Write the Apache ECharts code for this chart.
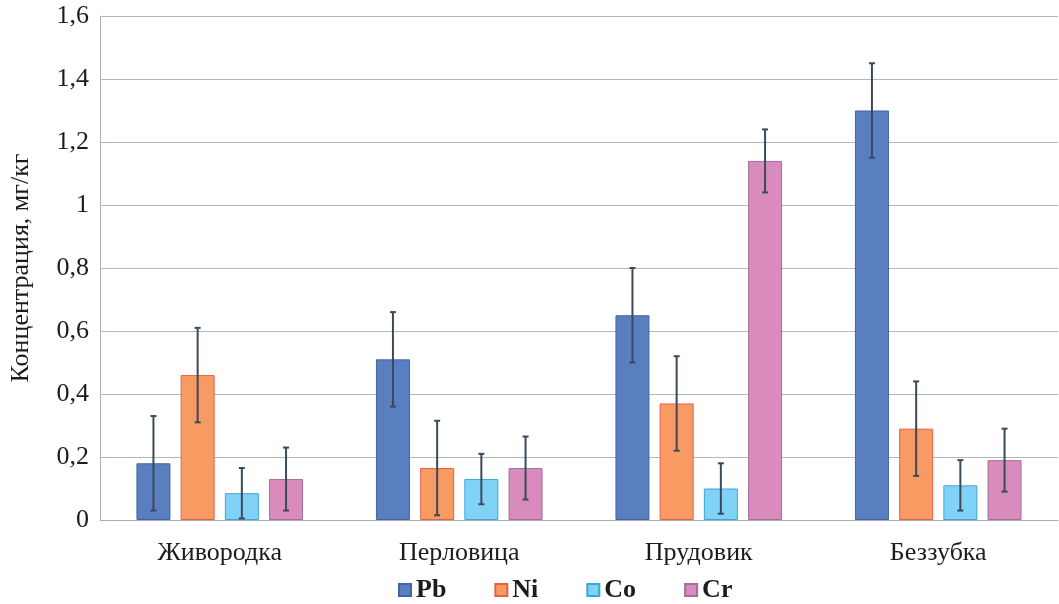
<!DOCTYPE html>
<html>
<head>
<meta charset="utf-8">
<script src="https://cdn.jsdelivr.net/npm/echarts@6/dist/echarts.min.js"></script>
<style>
  html, body { margin: 0; padding: 0; background: #ffffff; }
  #chart { width: 1059px; height: 604px; }
</style>
</head>
<body>
<div id="chart"></div>
<script>
// Mollusc groups along the category axis
const categories = ['Живородка', 'Перловица', 'Прудовик', 'Беззубка'];

// Mean concentration of each metal, mg/kg
const pbValues = [0.18, 0.51, 0.65, 1.30];
const niValues = [0.46, 0.165, 0.37, 0.29];
const coValues = [0.085, 0.13, 0.10, 0.11];
const crValues = [0.13, 0.165, 1.14, 0.19];

// Symmetric error (± mg/kg) of each metal
const pbError = [0.15, 0.15, 0.15, 0.15];
const niError = [0.15, 0.15, 0.15, 0.15];
const coError = [0.08, 0.08, 0.08, 0.08];
const crError = [0.10, 0.10, 0.10, 0.10];

const yTicks = { min: 0, max: 1.6, interval: 0.2 };

const metals = [
  { name: 'Pb', values: pbValues, errors: pbError, color: '#5a7fc0', border: '#41659e' },
  { name: 'Ni', values: niValues, errors: niError, color: '#f79b63', border: '#e4604a' },
  { name: 'Co', values: coValues, errors: coError, color: '#80d3f6', border: '#3aa7d9' },
  { name: 'Cr', values: crValues, errors: crError, color: '#d98bbd', border: '#a07099' }
];

const serif = '"Liberation Serif", "DejaVu Serif", serif';
const textColor = '#1c1c1c';
const BAR_W = 34;
const BAR_GAP = '30%';

const chart = echarts.init(document.getElementById('chart'));

const series = [];
metals.forEach(function (m) {
  series.push({
    name: m.name,
    type: 'bar',
    barWidth: BAR_W,
    barGap: BAR_GAP,
    data: m.values,
    itemStyle: { color: m.color, borderColor: m.border, borderWidth: 1 },
    z: 2
  });
});

// Error whiskers, placed over the matching bar of each group
metals.forEach(function (m, si) {
  series.push({
    type: 'custom',
    name: m.name + '-err',
    z: 5,
    silent: true,
    legendHoverLink: false,
    data: m.values.map(function (v, i) { return [i, v - m.errors[i], v + m.errors[i]]; }),
    renderItem: function (params, api) {
      const idx = api.value(0);
      const lo = api.coord([idx, api.value(1)]);
      const hi = api.coord([idx, api.value(2)]);
      const gapPx = BAR_W * 0.3;
      const groupW = metals.length * BAR_W + (metals.length - 1) * gapPx;
      const x = lo[0] - groupW / 2 + si * (BAR_W + gapPx) + BAR_W / 2;
      const cap = 3;
      const style = { stroke: '#3b4a5b', lineWidth: 2 };
      return {
        type: 'group',
        children: [
          { type: 'line', shape: { x1: x, y1: hi[1], x2: x, y2: lo[1] }, style: style },
          { type: 'line', shape: { x1: x - cap, y1: hi[1], x2: x + cap, y2: hi[1] }, style: style },
          { type: 'line', shape: { x1: x - cap, y1: lo[1], x2: x + cap, y2: lo[1] }, style: style }
        ]
      };
    }
  });
});

chart.setOption({
  animation: false,
  backgroundColor: '#ffffff',
  grid: { left: 98, right: 1, top: 16, bottom: 84 },
  legend: {
    data: metals.map(function (m) { return m.name; }),
    top: 572,
    left: 393,
    itemWidth: 12,
    itemHeight: 12,
    itemGap: 48,
    icon: 'rect',
    textStyle: { fontFamily: serif, fontSize: 26, fontWeight: 'bold', color: textColor }
  },
  xAxis: {
    type: 'category',
    data: categories,
    axisLine: { show: true, lineStyle: { color: '#a9aeb6', width: 1 } },
    axisTick: { show: false },
    axisLabel: { fontFamily: serif, fontSize: 26, color: textColor, margin: 20 }
  },
  yAxis: {
    type: 'value',
    min: yTicks.min,
    max: yTicks.max,
    interval: yTicks.interval,
    name: 'Концентрация, мг/кг',
    nameLocation: 'middle',
    nameGap: 66,
    nameTextStyle: { fontFamily: serif, fontSize: 26, color: textColor },
    axisLine: { show: true, lineStyle: { color: '#a9aeb6', width: 1 } },
    axisTick: { show: false },
    splitLine: { lineStyle: { color: '#b3b8c0', width: 1 } },
    axisLabel: {
      fontFamily: serif,
      fontSize: 26,
      color: textColor,
      margin: 11,
      formatter: function (v) { return String(Math.round(v * 10) / 10).replace('.', ','); }
    }
  },
  series: series
});
</script>
</body>
</html>
